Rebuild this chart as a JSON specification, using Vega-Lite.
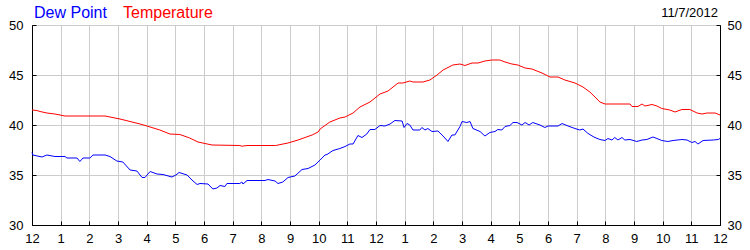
{
  "$schema": "https://vega.github.io/schema/vega-lite/v6.json",
  "width": 688,
  "height": 200,
  "autosize": "none",
  "padding": {"left": 32, "top": 25, "right": 30, "bottom": 25},
  "background": "white",
  "title": {"text": "11/7/2012", "anchor": "end", "fontSize": 13, "fontWeight": "normal", "font": "Liberation Sans", "color": "black", "baseline": "alphabetic", "offset": 0, "dy": 25, "dx": -2, "frame": "group"},
  "datasets": {
    "dew": [
      {"hour": 0, "value": 37.25}, {"hour": 0.03, "value": 37.0}, {"hour": 0.35, "value": 36.8}, {"hour": 0.52, "value": 37.0},
      {"hour": 0.8, "value": 36.85}, {"hour": 1.15, "value": 36.85}, {"hour": 1.22, "value": 36.7}, {"hour": 1.57, "value": 36.7},
      {"hour": 1.67, "value": 36.35}, {"hour": 1.78, "value": 36.7}, {"hour": 2.02, "value": 36.7}, {"hour": 2.13, "value": 37.0},
      {"hour": 2.55, "value": 37.0}, {"hour": 2.72, "value": 36.85}, {"hour": 2.96, "value": 36.4}, {"hour": 3.17, "value": 36.3},
      {"hour": 3.42, "value": 35.5}, {"hour": 3.66, "value": 35.4}, {"hour": 3.84, "value": 34.75}, {"hour": 3.94, "value": 34.75},
      {"hour": 4.12, "value": 35.35}, {"hour": 4.36, "value": 35.1}, {"hour": 4.57, "value": 35.05}, {"hour": 4.88, "value": 34.8},
      {"hour": 5.02, "value": 35.0}, {"hour": 5.13, "value": 35.25}, {"hour": 5.41, "value": 35.0}, {"hour": 5.58, "value": 34.5},
      {"hour": 5.76, "value": 34.05}, {"hour": 5.86, "value": 34.15}, {"hour": 6.14, "value": 34.1}, {"hour": 6.31, "value": 33.6},
      {"hour": 6.45, "value": 33.7}, {"hour": 6.56, "value": 33.95}, {"hour": 6.73, "value": 33.85}, {"hour": 6.8, "value": 34.15},
      {"hour": 7.25, "value": 34.15}, {"hour": 7.32, "value": 34.3}, {"hour": 7.36, "value": 34.1}, {"hour": 7.5, "value": 34.45},
      {"hour": 8.13, "value": 34.45}, {"hour": 8.23, "value": 34.55}, {"hour": 8.48, "value": 34.4}, {"hour": 8.58, "value": 34.15},
      {"hour": 8.75, "value": 34.3}, {"hour": 8.93, "value": 34.75}, {"hour": 9.17, "value": 34.9}, {"hour": 9.42, "value": 35.55},
      {"hour": 9.63, "value": 35.65}, {"hour": 9.87, "value": 36.0}, {"hour": 10.05, "value": 36.5}, {"hour": 10.22, "value": 37.0},
      {"hour": 10.29, "value": 37.05}, {"hour": 10.5, "value": 37.45}, {"hour": 10.74, "value": 37.65}, {"hour": 10.92, "value": 37.85},
      {"hour": 11.09, "value": 38.1}, {"hour": 11.2, "value": 38.1}, {"hour": 11.37, "value": 38.95}, {"hour": 11.51, "value": 38.75},
      {"hour": 11.68, "value": 39.1}, {"hour": 11.79, "value": 39.55}, {"hour": 11.96, "value": 39.55}, {"hour": 12.14, "value": 39.95},
      {"hour": 12.31, "value": 39.9}, {"hour": 12.49, "value": 40.1}, {"hour": 12.66, "value": 40.45}, {"hour": 12.91, "value": 40.4},
      {"hour": 12.98, "value": 39.75}, {"hour": 13.08, "value": 40.15}, {"hour": 13.18, "value": 40.0}, {"hour": 13.29, "value": 39.5},
      {"hour": 13.53, "value": 39.5}, {"hour": 13.6, "value": 39.75}, {"hour": 13.71, "value": 39.5}, {"hour": 13.81, "value": 39.65},
      {"hour": 13.95, "value": 39.35}, {"hour": 14.16, "value": 39.4}, {"hour": 14.34, "value": 38.9}, {"hour": 14.51, "value": 38.35},
      {"hour": 14.65, "value": 39.0}, {"hour": 14.75, "value": 39.0}, {"hour": 14.93, "value": 39.85}, {"hour": 15.0, "value": 40.35},
      {"hour": 15.17, "value": 40.25}, {"hour": 15.28, "value": 40.35}, {"hour": 15.38, "value": 39.65}, {"hour": 15.63, "value": 39.35},
      {"hour": 15.8, "value": 38.9}, {"hour": 15.97, "value": 39.25}, {"hour": 16.15, "value": 39.35}, {"hour": 16.25, "value": 39.55},
      {"hour": 16.39, "value": 39.5}, {"hour": 16.5, "value": 39.85}, {"hour": 16.67, "value": 39.95}, {"hour": 16.78, "value": 40.25},
      {"hour": 16.92, "value": 40.25}, {"hour": 17.09, "value": 40.0}, {"hour": 17.2, "value": 40.25}, {"hour": 17.34, "value": 40.0},
      {"hour": 17.47, "value": 40.25}, {"hour": 17.72, "value": 40.0}, {"hour": 17.89, "value": 39.75}, {"hour": 18.0, "value": 39.9},
      {"hour": 18.35, "value": 39.9}, {"hour": 18.49, "value": 40.15}, {"hour": 18.7, "value": 39.9}, {"hour": 18.94, "value": 39.65},
      {"hour": 19.11, "value": 39.5}, {"hour": 19.22, "value": 39.6}, {"hour": 19.39, "value": 39.17}, {"hour": 19.57, "value": 38.85},
      {"hour": 19.64, "value": 38.75}, {"hour": 19.81, "value": 38.55}, {"hour": 19.99, "value": 38.45}, {"hour": 20.09, "value": 38.65},
      {"hour": 20.23, "value": 38.5}, {"hour": 20.33, "value": 38.75}, {"hour": 20.44, "value": 38.5}, {"hour": 20.58, "value": 38.75},
      {"hour": 20.68, "value": 38.5}, {"hour": 20.86, "value": 38.55}, {"hour": 21.1, "value": 38.35}, {"hour": 21.28, "value": 38.5},
      {"hour": 21.45, "value": 38.55}, {"hour": 21.66, "value": 38.8}, {"hour": 21.8, "value": 38.65}, {"hour": 21.97, "value": 38.45},
      {"hour": 22.18, "value": 38.35}, {"hour": 22.36, "value": 38.45}, {"hour": 22.67, "value": 38.55}, {"hour": 22.85, "value": 38.5},
      {"hour": 23.02, "value": 38.25}, {"hour": 23.13, "value": 38.35}, {"hour": 23.23, "value": 38.1}, {"hour": 23.41, "value": 38.45},
      {"hour": 23.76, "value": 38.5}, {"hour": 23.94, "value": 38.55}, {"hour": 24.0, "value": 38.65}
    ],
    "temp": [
      {"hour": 0, "value": 41.5}, {"hour": 0.17, "value": 41.45}, {"hour": 0.28, "value": 41.35}, {"hour": 0.52, "value": 41.2},
      {"hour": 0.8, "value": 41.1}, {"hour": 1.15, "value": 40.9}, {"hour": 2.55, "value": 40.9}, {"hour": 2.72, "value": 40.8},
      {"hour": 3.07, "value": 40.6}, {"hour": 3.42, "value": 40.35}, {"hour": 3.77, "value": 40.1}, {"hour": 4.01, "value": 39.9},
      {"hour": 4.46, "value": 39.5}, {"hour": 4.81, "value": 39.1}, {"hour": 5.16, "value": 39.05}, {"hour": 5.5, "value": 38.7},
      {"hour": 5.79, "value": 38.3}, {"hour": 6.28, "value": 38.0}, {"hour": 7.25, "value": 37.95}, {"hour": 7.32, "value": 37.88},
      {"hour": 7.5, "value": 37.95}, {"hour": 8.5, "value": 37.95}, {"hour": 8.93, "value": 38.2}, {"hour": 9.28, "value": 38.5},
      {"hour": 9.77, "value": 39.0}, {"hour": 9.98, "value": 39.3}, {"hour": 10.05, "value": 39.6}, {"hour": 10.39, "value": 40.3},
      {"hour": 10.74, "value": 40.7}, {"hour": 10.92, "value": 40.8}, {"hour": 11.2, "value": 41.2}, {"hour": 11.44, "value": 41.8},
      {"hour": 11.79, "value": 42.3}, {"hour": 12.14, "value": 43.1}, {"hour": 12.42, "value": 43.4}, {"hour": 12.77, "value": 44.2},
      {"hour": 12.94, "value": 44.2}, {"hour": 13.18, "value": 44.4}, {"hour": 13.29, "value": 44.3}, {"hour": 13.64, "value": 44.3},
      {"hour": 13.88, "value": 44.5}, {"hour": 14.13, "value": 45.0}, {"hour": 14.34, "value": 45.5}, {"hour": 14.68, "value": 46.0},
      {"hour": 14.93, "value": 46.1}, {"hour": 15.1, "value": 45.95}, {"hour": 15.35, "value": 46.2}, {"hour": 15.56, "value": 46.2},
      {"hour": 15.8, "value": 46.4}, {"hour": 16.04, "value": 46.5}, {"hour": 16.32, "value": 46.5}, {"hour": 16.5, "value": 46.3},
      {"hour": 16.74, "value": 46.1}, {"hour": 16.95, "value": 46.0}, {"hour": 17.2, "value": 45.7}, {"hour": 17.44, "value": 45.6},
      {"hour": 17.79, "value": 45.2}, {"hour": 18.07, "value": 44.8}, {"hour": 18.35, "value": 44.8}, {"hour": 18.59, "value": 44.5},
      {"hour": 18.94, "value": 44.2}, {"hour": 19.22, "value": 43.8}, {"hour": 19.46, "value": 43.3}, {"hour": 19.64, "value": 42.8},
      {"hour": 19.81, "value": 42.3}, {"hour": 19.99, "value": 42.1}, {"hour": 20.86, "value": 42.1}, {"hour": 20.93, "value": 41.85},
      {"hour": 21.14, "value": 41.85}, {"hour": 21.28, "value": 42.1}, {"hour": 21.38, "value": 41.9}, {"hour": 21.63, "value": 42.05},
      {"hour": 21.8, "value": 41.9}, {"hour": 21.97, "value": 41.65}, {"hour": 22.25, "value": 41.5}, {"hour": 22.43, "value": 41.3},
      {"hour": 22.67, "value": 41.55}, {"hour": 22.95, "value": 41.55}, {"hour": 23.2, "value": 41.2}, {"hour": 23.37, "value": 41.1},
      {"hour": 23.55, "value": 41.2}, {"hour": 23.83, "value": 41.2}, {"hour": 24.0, "value": 41.0}
    ]
  },
  "config": {
    "view": {"stroke": "black", "strokeWidth": 1},
    "axis": {
      "labelFont": "Liberation Sans", "labelFontSize": 13, "labelColor": "black",
      "domainColor": "black", "tickColor": "black", "tickSize": -4,
      "gridColor": "#cccccc", "gridOpacity": 1, "gridWidth": 1, "title": null
    }
  },
  "encoding": {
    "x": {"field": "hour", "type": "quantitative",
      "scale": {"domain": [0, 24], "nice": false, "zero": false},
      "axis": {"values": [0,1,2,3,4,5,6,7,8,9,10,11,12,13,14,15,16,17,18,19,20,21,22,23,24],
        "tickCount": 40,
        "labelExpr": "datum.value % 12 == 0 ? '12' : '' + (datum.value % 12)",
        "labelPadding": 11, "labelOverlap": false, "labelFlush": false, "grid": true}}
  },
  "layer": [
    {
      "data": {"name": "dew"},
      "transform": [{"calculate": "'Dew Point'", "as": "series"}],
      "mark": {"type": "line", "strokeWidth": 1, "interpolate": "linear"},
      "encoding": {
        "y": {"field": "value", "type": "quantitative",
          "scale": {"domain": [30, 50], "nice": false, "zero": false},
          "axis": {"orient": "left", "values": [30, 35, 40, 45, 50], "tickCount": 10, "labelPadding": 13, "grid": true, "labelFlush": false}},
        "color": {"field": "series", "type": "nominal",
          "scale": {"domain": ["Dew Point", "Temperature"], "range": ["#0000ff", "#ff0000"]},
          "legend": {"orient": "none", "legendX": -14, "legendY": -20, "direction": "horizontal", "title": null,
            "symbolSize": 1, "symbolStrokeWidth": 0, "symbolOpacity": 0, "labelOffset": 0, "columnPadding": 0,
            "gridAlign": "none", "padding": 0, "labelAlign": "left",
            "labelFont": "Liberation Sans", "labelFontSize": 16,
            "encode": {"labels": {"update": {"fill": {"signal": "datum.value === 'Dew Point' ? '#0000ff' : '#ff0000'"}}}}}}
      }
    },
    {
      "data": {"name": "temp"},
      "transform": [{"calculate": "'Temperature'", "as": "series"}],
      "mark": {"type": "line", "strokeWidth": 1, "interpolate": "linear"},
      "encoding": {
        "y": {"field": "value", "type": "quantitative",
          "scale": {"domain": [30, 50], "nice": false, "zero": false},
          "axis": {"orient": "right", "values": [30, 35, 40, 45, 50], "tickCount": 10, "labelPadding": 11, "grid": false, "labelFlush": false}},
        "color": {"field": "series", "type": "nominal"}
      }
    }
  ],
  "resolve": {"scale": {"y": "independent"}}
}
